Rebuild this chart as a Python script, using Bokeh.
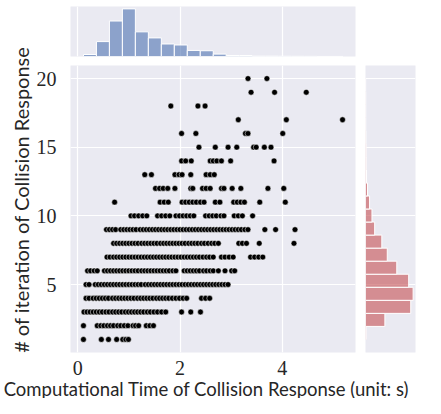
import numpy as np
from math import pi
from bokeh.plotting import figure
from bokeh.models import Range1d, FixedTicker, Grid, Label, GridPlot
from bokeh.embed import file_html
from bokeh.resources import INLINE

# ---------------- data: scatter, one list of times per iteration count ----------------
time_iter_01 = [0.11, 0.46, 0.60, 0.76, 0.88, 0.94, 0.99]
time_iter_02 = [0.11, 0.38, 0.45, 0.51, 0.58, 0.64, 0.70, 0.78, 0.84, 0.91, 0.98, 1.08, 1.13,
                1.19, 1.34, 1.41, 1.48]
time_iter_03 = [0.12, 0.18, 0.24, 0.30, 0.36, 0.42, 0.48, 0.55, 0.61, 0.68, 0.74, 0.80, 0.86,
                0.93, 0.99, 1.05, 1.11, 1.17, 1.23, 1.29, 1.36, 1.42, 1.49, 1.56, 1.64, 1.72,
                2.03, 2.21, 2.40]
time_iter_04 = [0.16, 0.22, 0.30, 0.36, 0.42, 0.48, 0.54, 0.60, 0.68, 0.74, 0.80, 0.86, 0.92,
                0.98, 1.04, 1.10, 1.17, 1.23, 1.29, 1.35, 1.41, 1.47, 1.54, 1.60, 1.66, 1.72,
                1.78, 1.85, 1.92, 1.99, 2.06, 2.13, 2.42, 2.50, 2.58]
time_iter_05 = [0.16, 0.22, 0.34, 0.40, 0.46, 0.52, 0.58, 0.64, 0.70, 0.76, 0.82, 0.88, 0.94,
                1.00, 1.06, 1.12, 1.18, 1.24, 1.32, 1.38, 1.44, 1.50, 1.56, 1.62, 1.68, 1.74,
                1.80, 1.86, 1.92, 1.98, 2.04, 2.10, 2.16, 2.22, 2.28, 2.34, 2.40, 2.46, 2.52,
                2.58, 2.64, 2.70, 2.76, 2.82, 2.88, 2.94]
time_iter_06 = [0.19, 0.25, 0.32, 0.38, 0.52, 0.58, 0.64, 0.70, 0.76, 0.82, 0.88, 0.94, 1.00,
                1.06, 1.12, 1.18, 1.25, 1.31, 1.37, 1.43, 1.49, 1.55, 1.61, 1.67, 1.73, 1.79,
                1.86, 1.92, 2.08, 2.14, 2.20, 2.26, 2.32, 2.38, 2.46, 2.52, 2.59, 2.65, 2.75,
                2.88, 3.01, 3.07]
time_iter_07 = [0.57, 0.63, 0.70, 0.76, 0.82, 0.88, 0.94, 1.00, 1.06, 1.12, 1.18, 1.24, 1.30,
                1.36, 1.42, 1.48, 1.54, 1.60, 1.66, 1.72, 1.78, 1.84, 1.90, 1.96, 2.02, 2.08,
                2.14, 2.20, 2.26, 2.32, 2.38, 2.45, 2.52, 2.58, 2.65, 2.81, 2.88, 2.96, 3.04,
                3.38, 3.46, 3.54, 3.62]
time_iter_08 = [0.70, 0.76, 0.82, 0.88, 0.94, 1.00, 1.06, 1.12, 1.18, 1.25, 1.31, 1.37, 1.43,
                1.49, 1.55, 1.62, 1.68, 1.74, 1.80, 1.86, 1.92, 1.98, 2.04, 2.10, 2.17, 2.23,
                2.29, 2.35, 2.42, 2.48, 2.55, 2.62, 2.68, 2.75, 3.15, 3.22, 3.30, 3.55, 4.23]
time_iter_09 = [0.56, 0.62, 0.68, 0.74, 0.84, 0.90, 0.96, 1.02, 1.08, 1.14, 1.22, 1.28, 1.34,
                1.40, 1.46, 1.52, 1.58, 1.64, 1.70, 1.76, 1.82, 1.88, 1.94, 2.00, 2.06, 2.12,
                2.18, 2.24, 2.30, 2.36, 2.42, 2.48, 2.54, 2.60, 2.66, 2.72, 2.78, 2.84, 2.90,
                2.96, 3.02, 3.08, 3.14, 3.20, 3.27, 3.33, 3.66, 3.87, 4.25]
time_iter_10 = [1.04, 1.11, 1.19, 1.27, 1.35, 1.56, 1.64, 1.72, 1.80, 1.92, 1.99, 2.06, 2.13,
                2.20, 2.27, 2.50, 2.57, 2.64, 2.71, 2.80, 2.86, 3.06, 3.14, 3.22, 3.42]
time_iter_11 = [0.72, 1.61, 1.69, 1.77, 2.04, 2.11, 2.18, 2.25, 2.32, 2.40, 2.47, 2.69, 2.78,
                3.05, 3.12, 3.19, 3.26, 3.56, 4.06]
time_iter_12 = [1.52, 1.60, 1.67, 1.76, 1.90, 2.21, 2.25, 2.44, 2.51, 2.59, 2.81, 2.86, 3.02,
                3.19, 3.72, 4.03]
time_iter_13 = [1.31, 1.44, 1.90, 1.98, 2.04, 2.21, 2.51, 2.59, 2.67]
time_iter_14 = [2.03, 2.11, 2.22, 2.59, 2.65, 2.72, 2.81, 2.99, 3.84]
time_iter_15 = [2.37, 2.69, 2.94, 3.11, 3.44, 3.49, 3.65, 3.78]
time_iter_16 = [2.03, 2.31, 3.28, 3.33, 4.01]
time_iter_17 = [3.14, 4.08, 5.18]
time_iter_18 = [1.82, 2.35, 2.49]
time_iter_19 = [3.39, 3.85, 4.47]
time_iter_20 = [3.33, 3.70]

iteration_levels = list(range(1, 21))

# ---------------- data: marginal histograms ----------------
time_hist_min, time_hist_max = 0.11, 5.19
time_hist_counts = [32, 238, 567, 761, 394, 297, 200, 184, 97, 92, 38, 16, 16, 5, 5, 4, 3, 2, 1, 1]
iter_hist_min, iter_hist_max = 1, 20
iter_hist_counts = [8, 228, 532, 560, 508, 368, 256, 192, 108, 76, 48, 24, 12, 9, 8, 5, 3, 3, 3, 2]

x_ticks = [0, 2, 4]
y_ticks = [5, 10, 15, 20]
x_label = "Computational Time of Collision Response (unit: s)"
y_label = "# of iteration of Collision Response"

# ---------------- assemble ----------------
rows = [time_iter_01, time_iter_02, time_iter_03, time_iter_04, time_iter_05, time_iter_06,
        time_iter_07, time_iter_08, time_iter_09, time_iter_10, time_iter_11, time_iter_12,
        time_iter_13, time_iter_14, time_iter_15, time_iter_16, time_iter_17, time_iter_18,
        time_iter_19, time_iter_20]
xs, ys = [], []
for lvl, row in zip(iteration_levels, rows):
    xs.extend(row)
    ys.extend([lvl] * len(row))

t_edges = np.linspace(time_hist_min, time_hist_max, len(time_hist_counts) + 1)
i_edges = np.linspace(iter_hist_min, iter_hist_max, len(iter_hist_counts) + 1)

BG = "#EAEAF2"
TXT = "#262626"
xpad = (max(xs) - min(xs)) * 0.05
ypad = (max(ys) - min(ys)) * 0.05
xr = Range1d(min(xs) - xpad, max(xs) + xpad)
yr = Range1d(min(ys) - ypad, max(ys) + ypad)

common = dict(output_backend="svg", toolbar_location=None, background_fill_color=BG,
              border_fill_color="white", outline_line_color=None, title=None)

# main scatter
main = figure(width=327, height=318, x_range=xr, y_range=yr,
              min_border_left=32, min_border_right=5, min_border_top=5, min_border_bottom=26,
              **common)
main.scatter(xs, ys, size=5.8, fill_color="black", line_color="white", line_width=0.5)
main.xaxis.ticker = FixedTicker(ticks=x_ticks)
main.yaxis.ticker = FixedTicker(ticks=y_ticks)
for ax in (main.xaxis, main.yaxis):
    ax.axis_line_color = None
    ax.major_tick_line_color = None
    ax.minor_tick_line_color = None
    ax.major_label_text_font = "Liberation Serif"
    ax.major_label_text_font_size = "20px"
    ax.major_label_text_color = TXT
main.xaxis.major_label_standoff = 2
main.yaxis.major_label_standoff = 8
main.grid.grid_line_color = "white"
main.grid.grid_line_width = 1.2

# top marginal histogram
top = figure(width=327, height=60, x_range=xr, y_range=Range1d(0, max(time_hist_counts) * 1.05),
             x_axis_type=None, y_axis_type=None,
             min_border_left=32, min_border_right=5, min_border_top=6, min_border_bottom=4,
             **common)
top.add_layout(Grid(dimension=0, ticker=FixedTicker(ticks=x_ticks),
                    grid_line_color="white", grid_line_width=1.2))
top.quad(left=t_edges[:-1], right=t_edges[1:], bottom=0, top=time_hist_counts,
         fill_color="#4C72B0", fill_alpha=0.6, line_color="white", line_width=1)

# right marginal histogram
right = figure(width=65, height=318, y_range=yr, x_range=Range1d(0, max(iter_hist_counts) * 1.05),
               x_axis_type=None, y_axis_type=None,
               min_border_left=5, min_border_right=10, min_border_top=5, min_border_bottom=26,
               **common)
right.add_layout(Grid(dimension=1, ticker=FixedTicker(ticks=y_ticks),
                      grid_line_color="white", grid_line_width=1.2))
right.quad(left=0, right=iter_hist_counts, bottom=i_edges[:-1], top=i_edges[1:],
           fill_color="#C44E52", fill_alpha=0.6, line_color="white", line_width=1)

# axis-label strips (labels extend past the axes, as in the reference)
lab_common = dict(x_axis_type=None, y_axis_type=None, min_border=0, output_backend="svg",
                  toolbar_location=None, outline_line_color=None, title=None,
                  background_fill_color="white", border_fill_color="white")
ylab = figure(width=33, height=378, x_range=Range1d(0, 33), y_range=Range1d(0, 378), **lab_common)
ylab.add_layout(Label(x=20, y=167, text=y_label, angle=pi / 2, text_align="center",
                      text_baseline="middle", text_font="Lato", text_font_size="20px",
                      text_color=TXT))

xlab = figure(width=425, height=20, x_range=Range1d(0, 425), y_range=Range1d(0, 20), **lab_common)
xlab.add_layout(Label(x=211, y=10, text=x_label, text_align="center",
                      text_baseline="middle", text_font="Lato", text_font_size="18.5px",
                      text_color=TXT))

grid = GridPlot(children=[(ylab, 0, 0, 2, 1), (top, 0, 1), (main, 1, 1), (right, 1, 2),
                          (xlab, 2, 0, 1, 3)], toolbar_location=None)

open("out.html", "w").write(file_html(grid, INLINE))
